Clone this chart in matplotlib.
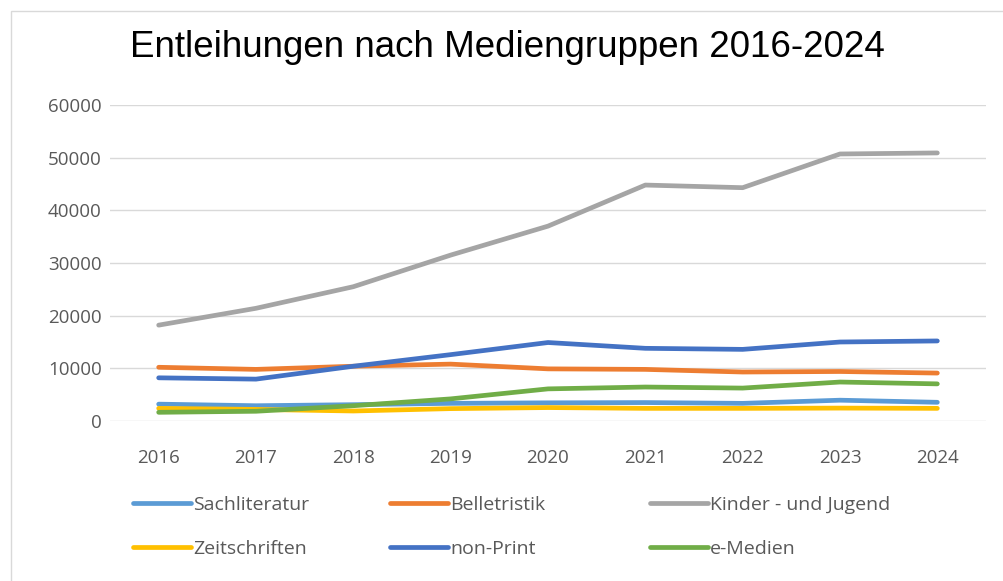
import matplotlib.pyplot as plt
import matplotlib.patches as patches

years = ["2016", "2017", "2018", "2019", "2020", "2021", "2022", "2023", "2024"]

sachliteratur = [3200, 2900, 3100, 3350, 3450, 3500, 3350, 3950, 3550]
belletristik = [10200, 9800, 10400, 10800, 9900, 9800, 9300, 9400, 9100]
kinder_jugend = [18200, 21400, 25500, 31500, 37000, 44800, 44300, 50700, 50900]
zeitschriften = [2400, 2200, 1900, 2350, 2550, 2400, 2400, 2450, 2400]
non_print = [8200, 7950, 10400, 12600, 14900, 13800, 13600, 15000, 15200]
e_medien = [1650, 1850, 2900, 4200, 6100, 6450, 6250, 7400, 7050]

series = [
    ("Sachliteratur", sachliteratur, "#5B9BD5"),
    ("Belletristik", belletristik, "#ED7D31"),
    ("Kinder - und Jugend", kinder_jugend, "#A5A5A5"),
    ("Zeitschriften", zeitschriften, "#FFC000"),
    ("non-Print", non_print, "#4472C4"),
    ("e-Medien", e_medien, "#70AD47"),
]

plt.rcParams['font.family'] = ['Open Sans', 'DejaVu Sans']

fig = plt.figure(figsize=(10.04, 5.81), dpi=100)
ax = fig.add_axes([110 / 1004, 1 - 421 / 581, 876 / 1004, 316 / 581])

x = list(range(len(years)))
lines = []
for name, vals, col in series:
    ln, = ax.plot(x, vals, color=col, lw=3.4, solid_capstyle='round', label=name)
    lines.append(ln)

ax.set_xlim(-0.5, len(years) - 0.5)
ax.set_ylim(0, 60000)
ax.set_yticks(range(0, 60001, 10000))
ax.set_xticks(x)
ax.set_xticklabels(years)
ax.grid(axis='y', color='#D9D9D9', lw=1)
ax.set_axisbelow(True)
for s in ax.spines.values():
    s.set_visible(False)
ax.tick_params(length=0, colors='#595959', labelsize=13.5)
ax.tick_params(axis='x', pad=20)
ax.tick_params(axis='y', pad=6)

fig.text(0.505, 0.919, "Entleihungen nach Mediengruppen 2016-2024",
         ha='center', va='center', fontsize=26.5, family='Liberation Sans')

# legend: 3 columns x 2 rows, one small legend per entry
col_x = [133, 390, 650]
row_y = [505, 549]
for i, ln in enumerate(lines):
    cx = col_x[i % 3] / 1004
    cy = 1 - row_y[i // 3] / 581
    leg = fig.legend([ln], [ln.get_label()], loc='center left',
                     bbox_to_anchor=(cx, cy), frameon=False, fontsize=14,
                     handlelength=3.0, handletextpad=0.1, borderpad=0,
                     borderaxespad=0)
    for t in leg.get_texts():
        t.set_color('#595959')

fig.patches.append(patches.Rectangle((11 / 1004, -0.1), 1.2, 1 - 11 / 581 + 0.1,
                                     transform=fig.transFigure, fill=False,
                                     edgecolor='#D9D9D9', lw=1))

fig.savefig("out.png", dpi=100)
